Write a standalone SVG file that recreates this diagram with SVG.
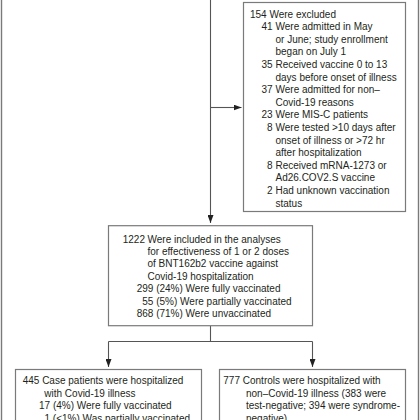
<svg xmlns="http://www.w3.org/2000/svg" width="420" height="420" viewBox="0 0 420 420">
<style>
.frame{fill:none;stroke:#7a7a7a;stroke-width:1.4}
.box{fill:#fff;stroke:#7a7a7a;stroke-width:1.2}
.ln{fill:none;stroke:#555;stroke-width:1.1}
text{font-family:"Liberation Sans",Arial,sans-serif;font-size:10px;fill:#231f20}
.e{text-anchor:end}
</style>
<defs>
<marker id="ah" viewBox="0 0 8 6" refX="8" refY="3" markerWidth="8" markerHeight="6" markerUnits="userSpaceOnUse" orient="auto">
<path d="M0,0 L8,3 L0,6 Z" fill="#222"/>
</marker>
</defs>
<rect class="frame" x="1.5" y="-10" width="417" height="445"/>
<g id="connectors">
<line class="ln" x1="210.5" y1="-5" x2="210.5" y2="223" marker-end="url(#ah)"/>
<line class="ln" x1="210.5" y1="107.5" x2="241.5" y2="107.5" marker-end="url(#ah)"/>
<line class="ln" x1="210.5" y1="325.7" x2="210.5" y2="341.5"/>
<line class="ln" x1="108.5" y1="341.5" x2="312.5" y2="341.5"/>
<line class="ln" x1="108.5" y1="341.5" x2="108.5" y2="367" marker-end="url(#ah)"/>
<line class="ln" x1="312.5" y1="341.5" x2="312.5" y2="367" marker-end="url(#ah)"/>
</g>
<g id="excluded">
<rect class="box" x="243.5" y="2.5" width="162" height="209"/>
<text x="250" y="17.6">154 Were excluded</text>
<text class="e" x="272.5" y="30.2">41</text><text x="275.5" y="30.2">Were admitted in May</text>
<text x="275.5" y="42.8">or June; study enrollment</text>
<text x="275.5" y="55.4">began on July 1</text>
<text class="e" x="272.5" y="68">35</text><text x="275.5" y="68">Received vaccine 0 to 13</text>
<text x="275.5" y="80.6">days before onset of illness</text>
<text class="e" x="272.5" y="93.2">37</text><text x="275.5" y="93.2">Were admitted for non–</text>
<text x="275.5" y="105.8">Covid-19 reasons</text>
<text class="e" x="272.5" y="118.4">23</text><text x="275.5" y="118.4">Were MIS-C patients</text>
<text class="e" x="272.5" y="131">8</text><text x="275.5" y="131">Were tested &gt;10 days after</text>
<text x="275.5" y="143.6">onset of illness or &gt;72 hr</text>
<text x="275.5" y="156.2">after hospitalization</text>
<text class="e" x="272.5" y="168.8">8</text><text x="275.5" y="168.8">Received mRNA-1273 or</text>
<text x="275.5" y="181.4">Ad26.COV2.S vaccine</text>
<text class="e" x="272.5" y="194">2</text><text x="275.5" y="194">Had unknown vaccination</text>
<text x="275.5" y="206.6">status</text>
</g>
<g id="included">
<rect class="box" x="108.5" y="225.7" width="204" height="100"/>
<text class="e" x="145" y="242.6">1222</text><text x="147.5" y="242.6">Were included in the analyses</text>
<text x="147.5" y="255">for effectiveness of 1 or 2 doses</text>
<text x="147.5" y="267.4">of BNT162b2 vaccine against</text>
<text x="147.5" y="279.8">Covid-19 hospitalization</text>
<text x="136.7" y="292.2">299 (24%) Were fully vaccinated</text>
<text x="142.3" y="304.6">55 (5%) Were partially vaccinated</text>
<text x="136.7" y="317">868 (71%) Were unvaccinated</text>
</g>
<g id="cases">
<rect class="box" x="15.5" y="369.5" width="186" height="60"/>
<text x="22.7" y="383.6">445 Case patients were hospitalized</text>
<text x="44.3" y="396.8">with Covid-19 illness</text>
<text x="39" y="409.4">17 (4%) Were fully vaccinated</text>
<text x="44.5" y="422">1 (&lt;1%) Was partially vaccinated</text>
</g>
<g id="controls">
<rect class="box" x="219.5" y="369.5" width="186" height="60"/>
<text x="223.3" y="383.6">777 Controls were hospitalized with</text>
<text x="246" y="396.8">non–Covid-19 illness (383 were</text>
<text x="246" y="409.4">test-negative; 394 were syndrome-</text>
<text x="246" y="422">negative)</text>
</g>
</svg>
